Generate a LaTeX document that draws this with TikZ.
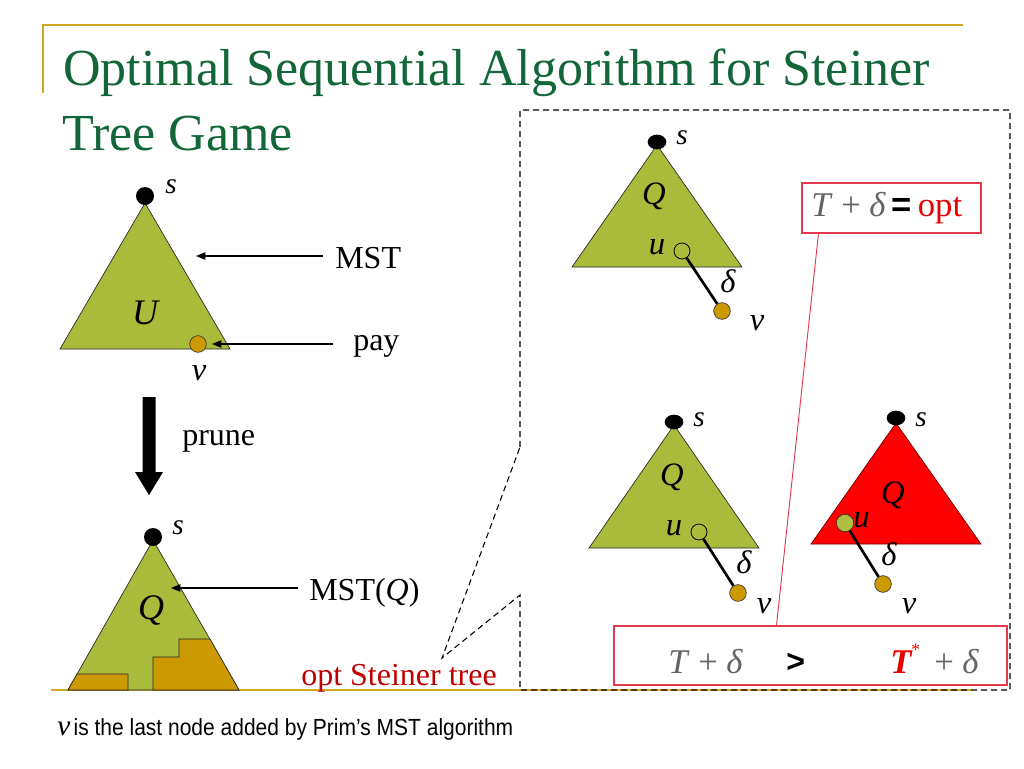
\documentclass[tikz,border=0pt]{standalone}
\usepackage{fontspec}
\setmainfont{Liberation Serif}
\newfontfamily\arialf{Liberation Sans}
\usetikzlibrary{arrows.meta,shapes.geometric}
\definecolor{olivefill}{RGB}{170,187,60}
\definecolor{orangedot}{RGB}{204,153,0}
\definecolor{titlegreen}{RGB}{18,102,56}
\definecolor{goldline}{RGB}{210,166,36}
\definecolor{boxred}{RGB}{228,58,78}
\definecolor{optred}{RGB}{235,0,0}
\definecolor{darkred}{RGB}{192,0,0}
\definecolor{graytxt}{RGB}{100,100,100}
\definecolor{ugreen}{RGB}{175,192,64}
\definecolor{trired}{RGB}{255,0,0}
\begin{document}
\begin{tikzpicture}[x=0.75pt,y=-0.75pt,
  lbl/.style={inner sep=0pt,anchor=base},
  lblw/.style={inner sep=0pt,anchor=base west},
  tri/.style={draw=black!85,line width=0.5pt,fill=olivefill},
  redtri/.style={draw=black!60!red,line width=0.5pt,fill=trired},
  sdotc/.style={circle,fill=black,minimum size=13.5pt,inner sep=0pt},
  sdote/.style={ellipse,fill=black,minimum width=14pt,minimum height=11pt,inner sep=0pt},
  vdot/.style={circle,draw=black!80,line width=0.5pt,fill=orangedot,minimum size=12.5pt,inner sep=0pt},
  udot/.style={circle,draw=black,line width=0.6pt,minimum size=12pt,inner sep=0pt},
  ugdot/.style={circle,draw=black!80,line width=0.5pt,fill=ugreen,minimum size=13pt,inner sep=0pt},
  edgeln/.style={line width=2pt,black},
  ptr/.style={-{Triangle[length=7pt,width=5.5pt]},line width=0.9pt},
  callout/.style={dashed,dash pattern=on 4.5pt off 3pt,line width=0.8pt},
  rbox/.style={draw=boxred,line width=0.8pt,fill=white,inner sep=0pt},
  ttl/.style={lblw,font=\fontsize{39}{42}\selectfont,text=titlegreen},
  big/.style={font=\fontsize{24}{26}\selectfont},
  ital/.style={font=\fontsize{27}{29}\selectfont\itshape},
  itm/.style={font=\fontsize{24.5}{26}\selectfont\itshape},
  its/.style={font=\fontsize{22}{24}\selectfont\itshape},
  eqf/.style={font=\fontsize{26}{28}\selectfont}]
\useasboundingbox (0,0) rectangle (1024,768);
\fill[white] (0,0) rectangle (1024,768);
% title decoration
\draw[goldline,line width=1.4pt] (43,93) -- (43,25) -- (963,25);
\node[ttl] (t1) at (63,85) {Optimal Sequential Algorithm for Steiner};
\node[ttl] (t2) at (62,150) {Tree Game};
% bottom gold line
\draw[goldline,line width=1.4pt] (51,690) -- (972,690);
% callout
\draw[callout] (520,447) -- (520,110) -- (1010,110) -- (1010,690) -- (520,690) -- (520,595) -- (442,658) -- cycle;

% ---- left top: MST ----
\draw[tri] (145,203) -- (230,349) -- (60,349) -- cycle;
\node[sdotc] (s1) at (145,196) {};
\node[its,lblw] (s1l) at (165,193) {s};
\node[ital,lbl] (U) at (145,324) {U};
\node[vdot] (v1) at (198,344) {};
\node[itm,lbl] (v1l) at (199,380) {v};
\coordinate (mstA) at (323,256);
\coordinate (mstB) at (196,256);
\draw[ptr] (mstA) -- (mstB);
\node[big,lblw] (mst) at (335,268) {MST};
\coordinate (payA) at (333,344);
\coordinate (payB) at (212,344);
\draw[ptr] (payA) -- (payB);
\node[big,lblw] (pay) at (353,350) {pay};

% prune arrow
\fill (142.5,397) -- (155.5,397) -- (155.5,472) -- (163,472) -- (149,495) -- (135,472) -- (142.5,472) -- cycle;
\node[big,lblw] (prune) at (182,445) {prune};

% ---- left bottom: MST(Q) ----
\draw[tri] (153,540) -- (239,690) -- (68,690) -- cycle;
\fill[orangedot,draw=black!85,line width=0.5pt] (77,674) -- (128,674) -- (128,690) -- (68,690) -- cycle;
\fill[orangedot,draw=black!85,line width=0.5pt] (153,690) -- (153,657) -- (179,657) -- (179,639) -- (210,639) -- (239,690) -- cycle;
\node[sdotc] (s2) at (153,537) {};
\node[its,lblw] (s2l) at (172,534) {s};
\node[ital,lbl] (Q2) at (151,619) {Q};
\coordinate (mqA) at (298,588);
\coordinate (mqB) at (171,588);
\draw[ptr] (mqA) -- (mqB);
\node[big,lblw] (mstq) at (309,600) {MST(\textit{Q})};
\node[big,lblw,text=darkred] (opt) at (301,685) {opt Steiner tree};

% ---- right top ----
\draw[tri] (657,145) -- (742,267) -- (572,267) -- cycle;
\node[sdote] (s3) at (657,142) {};
\node[its,lblw] (s3l) at (676,144) {s};
\node[itm,lbl] (Q3) at (654,204) {Q};
\node[udot] (u3) at (682,251) {};
\node[itm,lbl] (u3l) at (657,254) {u};
\node[vdot] (v3) at (722,311) {};
\draw[edgeln] (u3) -- (v3);
\node[itm,lbl] (d3) at (728,292) {δ};
\node[itm,lbl] (v3l) at (757,330) {v};

% box 1
\node[rbox,minimum width=134.25pt,minimum height=37.5pt] (box1) at (891.5,208) {};
\node[lblw,eqf] (eq1) at (811,216)
  {{\color{graytxt}\textit{T} + \textit{δ}}\,{\arialf\bfseries =}\,{\color{optred}opt}};

% ---- right bottom middle ----
\draw[tri] (674,425) -- (759,548) -- (589,548) -- cycle;
\node[sdote] (s4) at (674,422) {};
\node[its,lblw] (s4l) at (693,426) {s};
\node[itm,lbl] (Q4) at (672,485) {Q};
\node[udot] (u4) at (699,532) {};
\node[itm,lbl] (u4l) at (674,535) {u};
\node[vdot] (v4) at (738,593) {};
\draw[edgeln] (u4) -- (v4);
\node[itm,lbl] (d4) at (744,573) {δ};
\node[itm,lbl] (v4l) at (764,613) {v};

% ---- right bottom red ----
\draw[redtri] (896,423) -- (981,544) -- (811,544) -- cycle;
\node[sdote] (s5) at (896,418) {};
\node[its,lblw] (s5l) at (915,426) {s};
\node[itm,lbl] (Q5) at (893,503) {Q};
\node[ugdot] (u5) at (845,523) {};
\node[itm,lblw] (u5l) at (853,527) {u};
\node[vdot] (v5) at (883,584) {};
\draw[edgeln] (u5) -- (v5);
\node[itm,lbl] (d5) at (889,565) {δ};
\node[itm,lbl] (v5l) at (909,613) {v};

% box 2
\node[rbox,minimum width=294.75pt,minimum height=44.25pt] (box2) at (810.5,655.5) {};
\node[lblw,eqf,text=graytxt] (lhs) at (668,673) {\textit{T} + \textit{δ}};
\node[lblw,font=\arialf\bfseries\fontsize{24}{26}\selectfont] (gt) at (786,672) {>};
\node[lblw,font=\fontsize{26}{28}\selectfont\bfseries\itshape,text=optred] (ts) at (890,673) {T\raisebox{0.5em}{\fontsize{13}{13}\selectfont\mdseries\upshape *}};
\node[lblw,eqf,text=graytxt] (rhs) at (934,673) {+ \textit{δ}};

% connecting red line
\draw[boxred,line width=0.7pt] ([xshift=12.75pt]box1.south west) -- ([xshift=122.25pt]box2.north west);

% footnote
\node[lblw] (foot) at (57,735) {{\fontsize{22}{24}\selectfont\itshape v} {\arialf\fontsize{17.5}{20}\selectfont\scalebox{0.9}[1]{is the last node added by Prim’s MST algorithm}}};
\end{tikzpicture}
\end{document}
